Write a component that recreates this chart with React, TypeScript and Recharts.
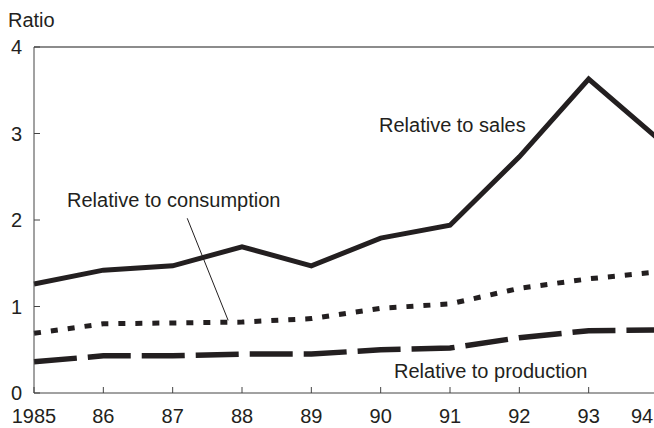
import { LineChart, Line, XAxis, YAxis, ReferenceLine } from 'recharts'

const years = [1985, 1986, 1987, 1988, 1989, 1990, 1991, 1992, 1993, 1994]
const yearLabels = ['1985', '86', '87', '88', '89', '90', '91', '92', '93', '94']
const toSales = [1.26, 1.42, 1.47, 1.69, 1.47, 1.79, 1.94, 2.73, 3.63, 2.94]
const toConsumption = [0.69, 0.8, 0.81, 0.82, 0.86, 0.98, 1.03, 1.21, 1.32, 1.4]
const toProduction = [0.36, 0.43, 0.43, 0.45, 0.45, 0.5, 0.52, 0.64, 0.72, 0.73]
const yTicks = [0, 1, 2, 3, 4]

const data = years.map((year, i) => ({
    year,
    sales: toSales[i],
    consumption: toConsumption[i],
    production: toProduction[i],
}))

const font = '"Liberation Sans", Arial, sans-serif'
const ink = '#231f20'

// keeps the last year label inside the picture, like the original
function YearTick(props: any) {
    const { x, y, payload } = props
    const label = yearLabels[years.indexOf(payload.value)]
    const cx = Math.min(x, 642)
    return (
        <text x={cx} y={y} textAnchor="middle" fill={ink} fontSize={20} fontFamily={font} dy="0.71em">
            {label}
        </text>
    )
}

export default function App() {
    return (
        <div style={{ position: 'absolute', left: 0, top: 0, width: 654, height: 428, overflow: 'hidden', fontFamily: font }}>
            <LineChart width={672} height={428} data={data} margin={{ top: 47, right: 14, left: 0, bottom: 0 }}>
                <XAxis
                    dataKey="year"
                    type="number"
                    domain={[1985, 1994]}
                    ticks={years}
                    height={35}
                    tickSize={-6}
                    tickMargin={22}
                    stroke="#444"
                    tick={<YearTick />}
                />
                <YAxis
                    domain={[0, 4]}
                    ticks={yTicks}
                    width={34}
                    tickSize={-6}
                    tickMargin={18}
                    stroke="#444"
                    tick={{ fill: ink, fontSize: 20, fontFamily: font }}
                />
                <ReferenceLine y={4} stroke="#666" strokeWidth={1.5} ifOverflow="visible" />
                <ReferenceLine
                    segment={[{ x: 1987.21, y: 2.02 }, { x: 1987.8, y: 0.84 }]}
                    stroke={ink}
                    strokeWidth={1}
                    ifOverflow="visible"
                />
                <Line dataKey="production" stroke={ink} strokeWidth={5.5} strokeDasharray="43 11" dot={false} isAnimationActive={false} />
                <Line dataKey="consumption" stroke={ink} strokeWidth={5} strokeDasharray="7 10" dot={false} isAnimationActive={false} />
                <Line dataKey="sales" stroke={ink} strokeWidth={5} dot={false} isAnimationActive={false} />
            </LineChart>
            <svg width={654} height={428} style={{ position: 'absolute', left: 0, top: 0, pointerEvents: 'none' }}>
                <g fill={ink} fontSize={20} fontFamily={font}>
                    <text x={8} y={27}>Ratio</text>
                    <text x={379} y={132}>Relative to sales</text>
                    <text x={67} y={207}>Relative to consumption</text>
                    <text x={394} y={378}>Relative to production</text>
                </g>
            </svg>
        </div>
    )
}
